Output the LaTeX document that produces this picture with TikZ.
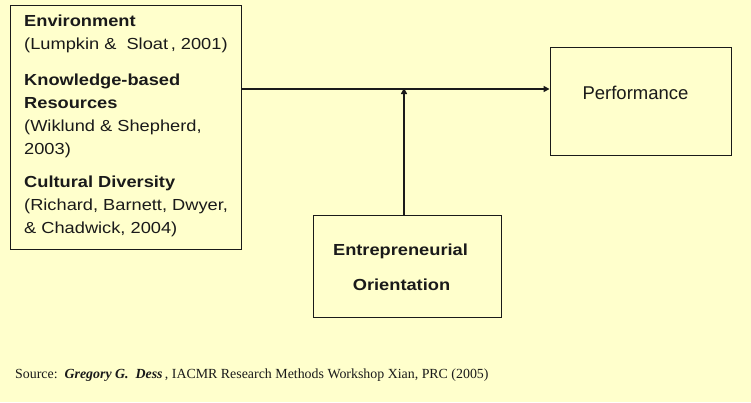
\documentclass[tikz,border=0pt]{standalone}
\usepackage{fontspec}
\setmainfont{Liberation Sans}
\newfontfamily\stretchedsans{Liberation Sans}[FakeStretch=1.14]
\newfontfamily\sourceserif{Liberation Serif}
\usetikzlibrary{arrows.meta}
\definecolor{bg}{HTML}{FFFFCC}
\definecolor{ink}{HTML}{1A1A1A}
\tikzset{
  boxstyle/.style={draw=ink, line width=0.9pt, inner sep=0pt},
  linetext/.style={anchor=base west, inner sep=0pt, font=\stretchedsans\fontsize{16}{19}\selectfont, text=ink},
  headtext/.style={linetext, font=\stretchedsans\bfseries\fontsize{16}{19}\selectfont},
  conn/.style={draw=ink, line width=2pt, -{Triangle[length=6pt,width=6pt]}},
}
\begin{document}
\begin{tikzpicture}[x=1pt,y=-1pt]
\fill[bg] (0,0) rectangle (751,402);
\useasboundingbox (0,0) rectangle (751,402);
% boxes
\node[boxstyle, minimum width=231pt, minimum height=244pt] (L) at (125.5,127) {};
\node[boxstyle, minimum width=181pt, minimum height=108pt] (P) at (640.5,101) {};
\node[boxstyle, minimum width=188pt, minimum height=102pt] (EO) at (407,266) {};
% left texts
\node[headtext] (t1) at (24,26) {Environment};
\node[linetext] (t2) at (24,49) {(Lumpkin \&\ \ Sloat\,, 2001)};
\node[headtext] (t3) at (24,85) {Knowledge-based};
\node[headtext] (t4) at (24,108) {Resources};
\node[linetext] (t5) at (24,131) {(Wiklund \& Shepherd,};
\node[linetext] (t6) at (24,154) {2003)};
\node[headtext] (t7) at (24,187) {Cultural Diversity};
\node[linetext] (t8) at (24,210) {(Richard, Barnett, Dwyer,};
\node[linetext] (t9) at (24,233) {\& Chadwick, 2004)};
% performance
\node[anchor=base, inner sep=0pt, font=\fontsize{18.5}{22}\selectfont, text=ink] (pt) at (635.5,99) {Performance};
% EO
\node[headtext, anchor=base] (e1) at (400.5,255) {Entrepreneurial};
\node[headtext, anchor=base] (e2) at (401.5,290) {Orientation};
% source
\node[anchor=base west, inner sep=0pt, font=\sourceserif\fontsize{13.9}{16}\selectfont, text=ink] (src) at (15,378)
  {Source:\ \ \textbf{\textit{Gregory G.\ \ Dess\,}}, IACMR Research Methods Workshop Xian, PRC (2005)};
% connectors
\coordinate (j) at (404,89);
\draw[conn] (L.east |- j) -- (j -| P.west);
\draw[conn] (j |- EO.north) -- ([yshift=1pt]j);
\end{tikzpicture}
\end{document}
